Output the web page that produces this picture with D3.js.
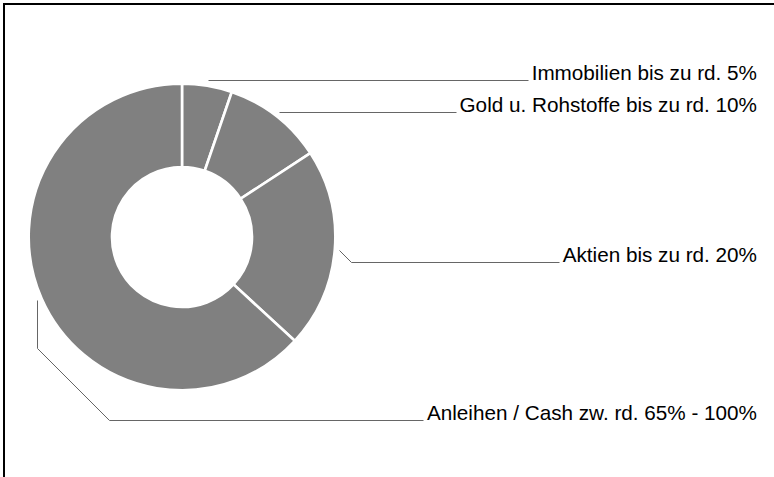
<!DOCTYPE html>
<html lang="de">
<head>
<meta charset="UTF-8">
<title>Anlagestruktur</title>
<script src="https://cdn.jsdelivr.net/npm/d3@7"></script>
<style>
    body { margin: 0; background: #fff; }
    .slice { fill: #808080; stroke: #fff; stroke-width: 2.6; }
    .leader { fill: none; stroke: #666; stroke-width: 1; }
    .label { font-family: "Liberation Sans", Arial, sans-serif; font-size: 20.7px; fill: #000; }
</style>
</head>
<body>
<svg width="774" height="477"></svg>
<script>
    // chart values
    const categories = ["Immobilien", "Gold u. Rohstoffe", "Aktien", "Anleihen / Cash"];
    const shares     = [5, 10, 20, 60];
    const labels     = [
        "Immobilien bis zu rd. 5%",
        "Gold u. Rohstoffe bis zu rd. 10%",
        "Aktien bis zu rd. 20%",
        "Anleihen / Cash zw. rd. 65% - 100%"
    ];

    const svg = d3.select("svg");
    const cx = 182, cy = 237;
    const rOuter = 153.3, rInner = 70, rLeader = 158;
    const textRight = 757;
    // y of the horizontal part of each leader line
    const lineY = [80, 112, 262, 420];

    // frame (runs off the right and bottom edge)
    svg.append("rect")
       .attr("x", 4).attr("y", 4)
       .attr("width", 900).attr("height", 600)
       .attr("fill", "none").attr("stroke", "#000").attr("stroke-width", 2);

    const pie = d3.pie().sort(null).value(d => d);
    const arcs = pie(shares);
    const arc = d3.arc().innerRadius(rInner).outerRadius(rOuter);

    const g = svg.append("g").attr("transform", `translate(${cx},${cy})`);
    g.selectAll("path.slice")
     .data(arcs)
        .join("path").attr("class", "slice")
          .attr("d", arc);

    const labelG = svg.append("g");

    arcs.forEach((a, i) => {
        const mid = (a.startAngle + a.endAngle) / 2;
        const sx = cx + rLeader * Math.sin(mid);
        const sy = cy - rLeader * Math.cos(mid);
        const ty = lineY[i];

        const text = labelG.append("text")
            .attr("class", "label")
            .attr("x", textRight)
            .attr("y", ty)
            .attr("text-anchor", "end")
            .text(labels[i]);
        const textStart = textRight - text.node().getComputedTextLength() - 4;

        let pts = [[sx, sy]];
        if (sx > cx) {
            // right side: diagonal down to the line level, then across
            const d = ty - sy;
            if (d > 1) pts.push([sx + d, ty]);
            else pts[0] = [sx, ty];
        } else {
            // left side: drop straight down, then diagonal, then across
            const diag = 72;
            pts.push([sx, ty - diag]);
            pts.push([sx + diag, ty]);
        }
        pts.push([textStart, ty]);

        labelG.append("path")
            .attr("class", "leader")
            .attr("d", d3.line()(pts.map(p => [Math.round(p[0]) + 0.5, Math.round(p[1]) + 0.5])));
    });
</script>
</body>
</html>
